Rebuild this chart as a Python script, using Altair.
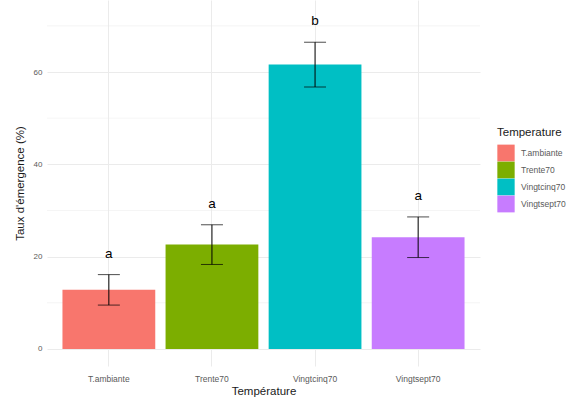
import altair as alt
import pandas as pd

# Emergence rate per temperature treatment (mean ± standard error)
temperature = ["T.ambiante", "Trente70", "Vingtcinq70", "Vingtsept70"]
taux = [12.8, 22.6, 61.6, 24.2]
erreur = [3.3, 4.3, 4.85, 4.4]
lettres = ["a", "a", "b", "a"]
couleurs = ["#F8766D", "#7CAE00", "#00BFC4", "#C77CFF"]
grille_mineure = [10, 30, 50, 70]

df = pd.DataFrame({
    "Temperature": temperature,
    "taux": taux,
    "se": erreur,
    "lettre": lettres,
})
df["haut"] = df["taux"] + df["se"]
df["bas"] = df["taux"] - df["se"]

FONT = "Liberation Sans"
GRID = "#ebebeb"

x_enc = alt.X(
    "Temperature:N",
    title="Température",
    sort=temperature,
    scale=alt.Scale(paddingInner=0.1, paddingOuter=0.15),
    axis=alt.Axis(
        labelAngle=0, labelFontSize=8.5, labelColor="#5a5a5a", labelPadding=8,
        titleFontSize=11.5, titleFontWeight="normal", titleColor="#1a1a1a", titlePadding=3,
        domain=False, ticks=False, grid=True, gridColor=GRID, gridWidth=1,
    ),
)
y_scale = alt.Scale(domain=[-3.7, 75.6], nice=False, zero=False)
y_axis = alt.Axis(
    values=[0, 20, 40, 60], labelFontSize=8, labelColor="#5a5a5a", labelPadding=5,
    title="Taux d'émergence (%)", titleFontSize=11.5, titleFontWeight="normal",
    titleColor="#1a1a1a", titlePadding=8,
    domain=False, ticks=False, grid=True, gridColor=GRID, gridWidth=1,
)

base = alt.Chart(df)

minor = alt.Chart(pd.DataFrame({"v": grille_mineure})).mark_rule(
    color=GRID, strokeWidth=0.5
).encode(y=alt.Y("v:Q", scale=y_scale, axis=y_axis))

bars = base.mark_bar().encode(
    x=x_enc,
    y=alt.Y("taux:Q", scale=y_scale, axis=y_axis),
    color=alt.Color(
        "Temperature:N",
        sort=temperature,
        scale=alt.Scale(domain=temperature, range=couleurs),
        legend=alt.Legend(
            title="Temperature", titleFontSize=11.5, titleFontWeight="normal",
            titleColor="#1a1a1a", titlePadding=6,
            labelFontSize=8.5, labelColor="#5a5a5a", labelOffset=6,
            symbolType="square", symbolSize=300, symbolStrokeWidth=0,
            rowPadding=0, clipHeight=17,
            orient="none", legendX=450, legendY=127,
        ),
    ),
)

err = base.mark_rule(color="black", strokeWidth=1).encode(
    x=alt.X("Temperature:N", sort=temperature),
    y=alt.Y("bas:Q", scale=y_scale),
    y2="haut:Q",
)
cap_top = base.mark_tick(color="black", thickness=1, size=22).encode(
    x=alt.X("Temperature:N", sort=temperature),
    y=alt.Y("haut:Q", scale=y_scale),
)
cap_bot = base.mark_tick(color="black", thickness=1, size=22).encode(
    x=alt.X("Temperature:N", sort=temperature),
    y=alt.Y("bas:Q", scale=y_scale),
)
letters = base.mark_text(
    fontSize=13.5, font=FONT, color="black", baseline="bottom", dy=-14
).encode(
    x=alt.X("Temperature:N", sort=temperature),
    y=alt.Y("haut:Q", scale=y_scale),
    text="lettre:N",
)

chart = alt.layer(minor, bars, err, cap_top, cap_bot, letters).properties(
    width=433, height=366,
    padding={"left": 47, "top": 0, "right": 96, "bottom": 35},
    autosize=alt.AutoSizeParams(type="none"),
    background="white",
).configure(font=FONT).configure_view(stroke=None, strokeWidth=0)

chart.save("out.html", embed_options={"renderer": "svg", "actions": False})
